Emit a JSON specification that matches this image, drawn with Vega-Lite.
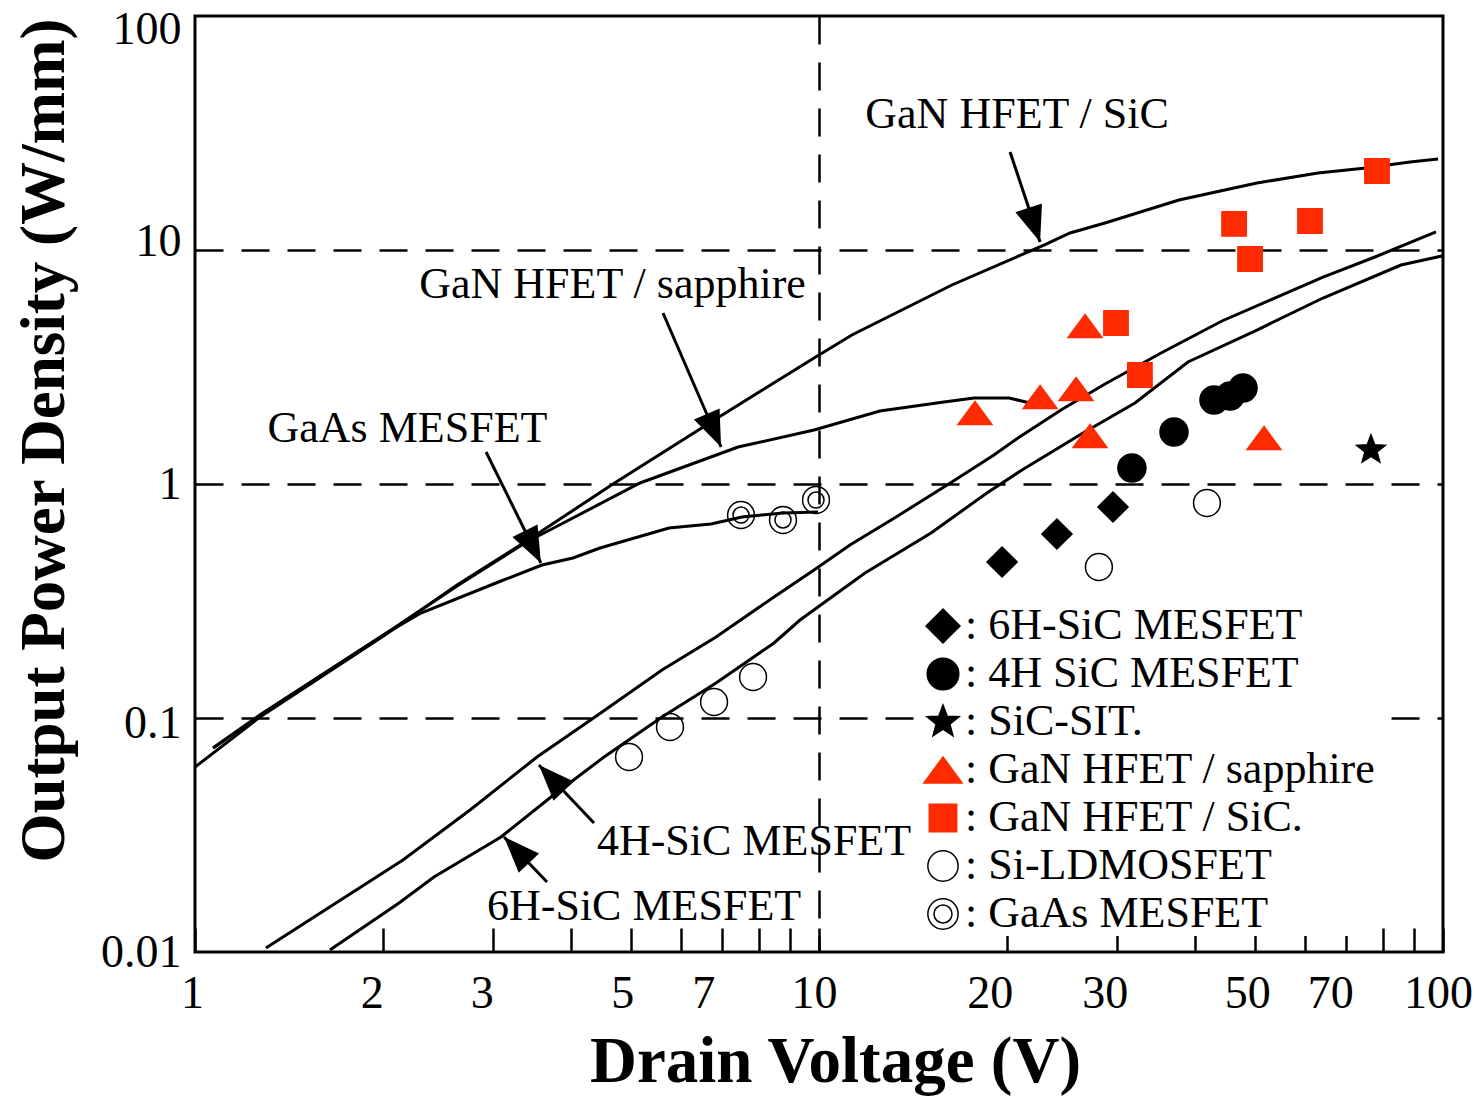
{
  "$schema": "https://vega.github.io/schema/vega-lite/v6.json",
  "width": 1248,
  "height": 936,
  "autosize": {"type": "none"},
  "padding": {"left": 195, "top": 16, "right": 40, "bottom": 145},
  "background": "white",
  "config": {"view": {"stroke": "black", "strokeWidth": 3}, "font": "Liberation Serif"},
  "datasets": {
    "curves": [
      {"curve": "GaN HFET / SiC", "V": 1, "P": 0.0617},
      {"curve": "GaN HFET / SiC", "V": 1.271, "P": 0.101},
      {"curve": "GaN HFET / SiC", "V": 2.016, "P": 0.2263},
      {"curve": "GaN HFET / SiC", "V": 2.63, "P": 0.37},
      {"curve": "GaN HFET / SiC", "V": 3.419, "P": 0.576},
      {"curve": "GaN HFET / SiC", "V": 4.676, "P": 1.0},
      {"curve": "GaN HFET / SiC", "V": 6.916, "P": 1.933},
      {"curve": "GaN HFET / SiC", "V": 9.82, "P": 3.456},
      {"curve": "GaN HFET / SiC", "V": 11.29, "P": 4.334},
      {"curve": "GaN HFET / SiC", "V": 16.33, "P": 7.087},
      {"curve": "GaN HFET / SiC", "V": 22.94, "P": 10.5},
      {"curve": "GaN HFET / SiC", "V": 25.25, "P": 11.82},
      {"curve": "GaN HFET / SiC", "V": 28.73, "P": 13.05},
      {"curve": "GaN HFET / SiC", "V": 37.75, "P": 16.36},
      {"curve": "GaN HFET / SiC", "V": 50.33, "P": 19.33},
      {"curve": "GaN HFET / SiC", "V": 63.05, "P": 21.34},
      {"curve": "GaN HFET / SiC", "V": 75.26, "P": 22.41},
      {"curve": "GaN HFET / SiC", "V": 88.53, "P": 23.78},
      {"curve": "GaN HFET / SiC", "V": 98.2, "P": 24.49},
      {"curve": "GaN HFET / sapphire", "V": 1.069, "P": 0.0744},
      {"curve": "GaN HFET / sapphire", "V": 1.271, "P": 0.103},
      {"curve": "GaN HFET / sapphire", "V": 2.016, "P": 0.2286},
      {"curve": "GaN HFET / sapphire", "V": 2.63, "P": 0.3664},
      {"curve": "GaN HFET / sapphire", "V": 3.419, "P": 0.5706},
      {"curve": "GaN HFET / sapphire", "V": 3.652, "P": 0.6234},
      {"curve": "GaN HFET / sapphire", "V": 5.166, "P": 1.01},
      {"curve": "GaN HFET / sapphire", "V": 7.419, "P": 1.439},
      {"curve": "GaN HFET / sapphire", "V": 9.82, "P": 1.701},
      {"curve": "GaN HFET / sapphire", "V": 12.52, "P": 2.051},
      {"curve": "GaN HFET / sapphire", "V": 15.86, "P": 2.24},
      {"curve": "GaN HFET / sapphire", "V": 17.72, "P": 2.331},
      {"curve": "GaN HFET / sapphire", "V": 20.16, "P": 2.331},
      {"curve": "GaN HFET / sapphire", "V": 21.78, "P": 2.219},
      {"curve": "GaAs MESFET", "V": 1.069, "P": 0.0744},
      {"curve": "GaAs MESFET", "V": 1.271, "P": 0.103},
      {"curve": "GaAs MESFET", "V": 2.016, "P": 0.2286},
      {"curve": "GaAs MESFET", "V": 2.302, "P": 0.281},
      {"curve": "GaAs MESFET", "V": 3.093, "P": 0.385},
      {"curve": "GaAs MESFET", "V": 3.598, "P": 0.4506},
      {"curve": "GaAs MESFET", "V": 4.034, "P": 0.4829},
      {"curve": "GaAs MESFET", "V": 4.457, "P": 0.5327},
      {"curve": "GaAs MESFET", "V": 5.748, "P": 0.6486},
      {"curve": "GaAs MESFET", "V": 6.714, "P": 0.6745},
      {"curve": "GaAs MESFET", "V": 7.526, "P": 0.7228},
      {"curve": "GaAs MESFET", "V": 8.756, "P": 0.7518},
      {"curve": "GaAs MESFET", "V": 9.963, "P": 0.7591},
      {"curve": "4H-SiC MESFET", "V": 1.299, "P": 0.0104},
      {"curve": "4H-SiC MESFET", "V": 1.682, "P": 0.0162},
      {"curve": "4H-SiC MESFET", "V": 2.154, "P": 0.02472},
      {"curve": "4H-SiC MESFET", "V": 2.759, "P": 0.04045},
      {"curve": "4H-SiC MESFET", "V": 3.532, "P": 0.0681},
      {"curve": "4H-SiC MESFET", "V": 4.375, "P": 0.101},
      {"curve": "4H-SiC MESFET", "V": 5.603, "P": 0.1604},
      {"curve": "4H-SiC MESFET", "V": 6.839, "P": 0.222},
      {"curve": "4H-SiC MESFET", "V": 8.47, "P": 0.329},
      {"curve": "4H-SiC MESFET", "V": 9.818, "P": 0.429},
      {"curve": "4H-SiC MESFET", "V": 11.21, "P": 0.5486},
      {"curve": "4H-SiC MESFET", "V": 13.29, "P": 0.7228},
      {"curve": "4H-SiC MESFET", "V": 16.33, "P": 1.02},
      {"curve": "4H-SiC MESFET", "V": 19.07, "P": 1.33},
      {"curve": "4H-SiC MESFET", "V": 20.84, "P": 1.572},
      {"curve": "4H-SiC MESFET", "V": 24.42, "P": 2.071},
      {"curve": "4H-SiC MESFET", "V": 28.73, "P": 2.675},
      {"curve": "4H-SiC MESFET", "V": 35.33, "P": 3.629},
      {"curve": "4H-SiC MESFET", "V": 44.24, "P": 4.973},
      {"curve": "4H-SiC MESFET", "V": 52.82, "P": 6.113},
      {"curve": "4H-SiC MESFET", "V": 64.23, "P": 7.665},
      {"curve": "4H-SiC MESFET", "V": 77.81, "P": 9.335},
      {"curve": "4H-SiC MESFET", "V": 97.45, "P": 11.94},
      {"curve": "6H-SiC MESFET", "V": 1.645, "P": 0.0102},
      {"curve": "6H-SiC MESFET", "V": 2.123, "P": 0.0162},
      {"curve": "6H-SiC MESFET", "V": 2.415, "P": 0.02092},
      {"curve": "6H-SiC MESFET", "V": 3.093, "P": 0.03101},
      {"curve": "6H-SiC MESFET", "V": 3.72, "P": 0.04597},
      {"curve": "6H-SiC MESFET", "V": 4.524, "P": 0.0681},
      {"curve": "6H-SiC MESFET", "V": 5.603, "P": 0.101},
      {"curve": "6H-SiC MESFET", "V": 6.839, "P": 0.1411},
      {"curve": "6H-SiC MESFET", "V": 8.47, "P": 0.2092},
      {"curve": "6H-SiC MESFET", "V": 9.324, "P": 0.2623},
      {"curve": "6H-SiC MESFET", "V": 11.85, "P": 0.4166},
      {"curve": "6H-SiC MESFET", "V": 15.12, "P": 0.6175},
      {"curve": "6H-SiC MESFET", "V": 18.58, "P": 0.9152},
      {"curve": "6H-SiC MESFET", "V": 21.15, "P": 1.148},
      {"curve": "6H-SiC MESFET", "V": 26.49, "P": 1.651},
      {"curve": "6H-SiC MESFET", "V": 32.09, "P": 2.219},
      {"curve": "6H-SiC MESFET", "V": 39.02, "P": 3.322},
      {"curve": "6H-SiC MESFET", "V": 50.33, "P": 4.55},
      {"curve": "6H-SiC MESFET", "V": 64.23, "P": 6.235},
      {"curve": "6H-SiC MESFET", "V": 85.64, "P": 8.628},
      {"curve": "6H-SiC MESFET", "V": 99.63, "P": 9.428}
    ],
    "points": [
      {"device": "6H-SiC MESFET", "V": 19.65, "P": 0.4642},
      {"device": "6H-SiC MESFET", "V": 24.06, "P": 0.6113},
      {"device": "6H-SiC MESFET", "V": 29.59, "P": 0.7975},
      {"device": "4H SiC MESFET", "V": 31.73, "P": 1.171},
      {"device": "4H SiC MESFET", "V": 37.06, "P": 1.668},
      {"device": "4H SiC MESFET", "V": 42.95, "P": 2.286},
      {"device": "4H SiC MESFET", "V": 45.57, "P": 2.377},
      {"device": "4H SiC MESFET", "V": 47.81, "P": 2.572},
      {"device": "SiC-SIT.", "V": 76.66, "P": 1.398},
      {"device": "GaN HFET / sapphire", "V": 17.78, "P": 2.011},
      {"device": "GaN HFET / sapphire", "V": 22.61, "P": 2.354},
      {"device": "GaN HFET / sapphire", "V": 25.82, "P": 2.547},
      {"device": "GaN HFET / sapphire", "V": 26.69, "P": 4.733},
      {"device": "GaN HFET / sapphire", "V": 27.19, "P": 1.604},
      {"device": "GaN HFET / sapphire", "V": 51.66, "P": 1.572},
      {"device": "GaN HFET / SiC.", "V": 29.92, "P": 4.875},
      {"device": "GaN HFET / SiC.", "V": 32.68, "P": 2.923},
      {"device": "GaN HFET / SiC.", "V": 46.26, "P": 12.92},
      {"device": "GaN HFET / SiC.", "V": 49.07, "P": 9.153},
      {"device": "GaN HFET / SiC.", "V": 61.22, "P": 13.3},
      {"device": "GaN HFET / SiC.", "V": 78.38, "P": 21.76},
      {"device": "Si-LDMOSFET", "V": 4.961, "P": 0.0681},
      {"device": "Si-LDMOSFET", "V": 5.77, "P": 0.0915},
      {"device": "Si-LDMOSFET", "V": 6.789, "P": 0.1171},
      {"device": "Si-LDMOSFET", "V": 7.84, "P": 0.1497},
      {"device": "Si-LDMOSFET", "V": 28.09, "P": 0.4418},
      {"device": "Si-LDMOSFET", "V": 41.85, "P": 0.8294},
      {"device": "GaAs MESFET", "V": 7.499, "P": 0.737},
      {"device": "GaAs MESFET", "V": 8.756, "P": 0.702},
      {"device": "GaAs MESFET", "V": 9.89, "P": 0.8543}
    ],
    "labels": [
      {"label": "GaN HFET / SiC", "V": 20.77, "P": 33.22},
      {"label": "GaN HFET / sapphire", "V": 4.668, "P": 6.235},
      {"label": "GaAs MESFET", "V": 2.19, "P": 1.512},
      {"label": "4H-SiC MESFET", "V": 7.868, "P": 0.02597},
      {"label": "6H-SiC MESFET", "V": 5.244, "P": 0.0137}
    ],
    "arrows": [
      {"name": "GaN HFET / SiC", "V": 22.61, "P": 10.82, "V2": 20.24, "P2": 26.23},
      {"name": "GaN HFET / sapphire", "V": 6.967, "P": 1.439, "V2": 5.623, "P2": 5.381},
      {"name": "GaAs MESFET", "V": 3.584, "P": 0.4597, "V2": 2.927, "P2": 1.37},
      {"name": "4H-SiC MESFET", "V": 3.558, "P": 0.06296, "V2": 4.359, "P2": 0.03557},
      {"name": "6H-SiC MESFET", "V": 3.128, "P": 0.03101, "V2": 3.665, "P2": 0.01991}
    ]
  },
  "encoding": {
    "x": {
      "field": "V", "type": "quantitative",
      "scale": {"type": "log", "domain": [1, 100], "nice": false},
      "axis": {
        "values": [1, 2, 3, 4, 5, 6, 7, 8, 9, 10, 20, 30, 40, 50, 60, 70, 80, 90, 100],
        "labelExpr": "indexof([1,2,3,5,7,10,20,30,50,70,100], datum.value) >= 0 ? format(datum.value, 'd') : ''",
        "labelFont": "Liberation Serif", "labelFontSize": 46, "labelColor": "black",
        "labelBaseline": "alphabetic", "labelPadding": 79, "labelFlush": false, "labelOverlap": false,
        "labelOffset": {
          "condition": [
            {"test": "datum.value == 1", "value": -3},
            {"test": "datum.value == 2", "value": -11},
            {"test": "datum.value == 3", "value": -11},
            {"test": "datum.value == 5", "value": -9},
            {"test": "datum.value == 7", "value": -19},
            {"test": "datum.value == 10", "value": -5},
            {"test": "datum.value == 20", "value": -17},
            {"test": "datum.value == 30", "value": -12},
            {"test": "datum.value == 50", "value": -8},
            {"test": "datum.value == 70", "value": -16},
            {"test": "datum.value == 100", "value": -5}
          ],
          "value": 0
        },
        "tickSize": -24, "tickWidth": 2.5, "tickColor": "black",
        "domain": false,
        "grid": true, "gridColor": "black", "gridWidth": 2.5, "gridDash": [28, 18],
        "gridOpacity": {"condition": {"test": "datum.value == 10", "value": 1}, "value": 0},
        "title": "Drain Voltage (V)", "titleFont": "Liberation Serif", "titleFontSize": 65, "titleFontWeight": "bold",
        "titleColor": "black", "titleX": 640, "titleY": 129, "titleBaseline": "alphabetic", "titleAlign": "center"
      }
    },
    "y": {
      "field": "P", "type": "quantitative",
      "scale": {"type": "log", "domain": [0.01, 100], "nice": false},
      "axis": {
        "values": [0.01, 0.1, 1, 10, 100],
        "format": "~g",
        "labelFont": "Liberation Serif", "labelFontSize": 46, "labelColor": "black",
        "labelPadding": 14, "labelBaseline": "middle",
        "labelOffset": {
          "condition": [
            {"test": "datum.value == 100", "value": 13},
            {"test": "datum.value == 10", "value": -9},
            {"test": "datum.value == 0.1", "value": 5}
          ],
          "value": 0
        },
        "ticks": false, "domain": false,
        "grid": true, "gridColor": "black", "gridWidth": 2.5, "gridDash": [28, 18],
        "gridOpacity": {"condition": {"test": "datum.value > 0.05 && datum.value < 50", "value": 1}, "value": 0},
        "title": "Output Power Density (W/mm)", "titleFont": "Liberation Serif", "titleFontSize": 63, "titleFontWeight": "bold",
        "titleColor": "black", "titleAngle": 270, "titleX": -132, "titleY": 424, "titleBaseline": "alphabetic", "titleAlign": "center"
      }
    }
  },
  "layer": [
    {
      "data": {"name": "curves"},
      "mark": {"type": "line", "color": "black", "strokeWidth": 3},
      "encoding": {"detail": {"field": "curve", "type": "nominal"}}
    },
    {
      "data": {"name": "arrows"},
      "mark": {"type": "rule", "color": "black", "strokeWidth": 3},
      "encoding": {"x2": {"field": "V2"}, "y2": {"field": "P2"}}
    },
    {
      "data": {"name": "arrows"},
      "transform": [
        {"calculate": "atan2((log(datum.V) - log(datum.V2)) / LN10 * 624, (log(datum.P) - log(datum.P2)) / LN10 * 234) * 180 / PI", "as": "ang"}
      ],
      "mark": {"type": "point", "shape": "M0,0L-0.56,1.44L0.56,1.44Z", "size": 2500, "filled": true, "color": "black", "opacity": 1},
      "encoding": {"angle": {"field": "ang", "type": "quantitative", "scale": null}}
    },
    {
      "data": {"name": "labels"},
      "mark": {"type": "text", "font": "Liberation Serif", "fontSize": 44, "align": "center", "baseline": "alphabetic", "color": "black"},
      "encoding": {"text": {"field": "label", "type": "nominal"}}
    },
    {
      "data": {"name": "points"},
      "mark": {"type": "point", "size": 1024, "opacity": 1, "strokeWidth": 1.5},
      "encoding": {
        "shape": {
          "field": "device", "type": "nominal",
          "scale": {
            "domain": ["6H-SiC MESFET", "4H SiC MESFET", "SiC-SIT.", "GaN HFET / sapphire", "GaN HFET / SiC.", "Si-LDMOSFET", "GaAs MESFET"],
            "range": [
              "M-0.94,0L0,-0.94L0.94,0L0,0.94Z",
              "M-0.875,0A0.875,0.875,0,1,1,0.875,0A0.875,0.875,0,1,1,-0.875,0Z",
              "M0,-0.94L0.235,-0.324L0.894,-0.29L0.38,0.124L0.553,0.76L0,0.4L-0.553,0.76L-0.38,0.124L-0.894,-0.29L-0.235,-0.324Z",
              "M0,-0.72L1.06,0.72L-1.06,0.72Z",
              "M-0.76,-0.76L0.76,-0.76L0.76,0.76L-0.76,0.76Z",
              "M-0.84,0A0.84,0.84,0,1,1,0.84,0A0.84,0.84,0,1,1,-0.84,0Z",
              "M-0.84,0A0.84,0.84,0,1,1,0.84,0A0.84,0.84,0,1,1,-0.84,0ZM-0.5,0A0.5,0.5,0,1,1,0.5,0A0.5,0.5,0,1,1,-0.5,0Z"
            ]
          },
          "legend": {
            "orient": "none", "legendX": 726, "legendY": 588, "title": null,
            "labelFont": "Liberation Serif", "labelFontSize": 44, "labelColor": "black",
            "labelExpr": "': ' + datum.label", "labelOffset": 0, "labelLimit": 600,
            "symbolSize": 1300, "symbolStrokeWidth": 1.5, "symbolOpacity": 1,
            "rowPadding": 4, "padding": 0, "fillColor": "white"
          }
        },
        "fill": {
          "field": "device", "type": "nominal",
          "scale": {
            "domain": ["6H-SiC MESFET", "4H SiC MESFET", "SiC-SIT.", "GaN HFET / sapphire", "GaN HFET / SiC.", "Si-LDMOSFET", "GaAs MESFET"],
            "range": ["black", "black", "black", "#ff2a00", "#ff2a00", "transparent", "transparent"]
          }
        },
        "stroke": {
          "field": "device", "type": "nominal",
          "scale": {
            "domain": ["6H-SiC MESFET", "4H SiC MESFET", "SiC-SIT.", "GaN HFET / sapphire", "GaN HFET / SiC.", "Si-LDMOSFET", "GaAs MESFET"],
            "range": ["black", "black", "black", "#ff2a00", "#ff2a00", "black", "black"]
          }
        }
      }
    }
  ]
}
